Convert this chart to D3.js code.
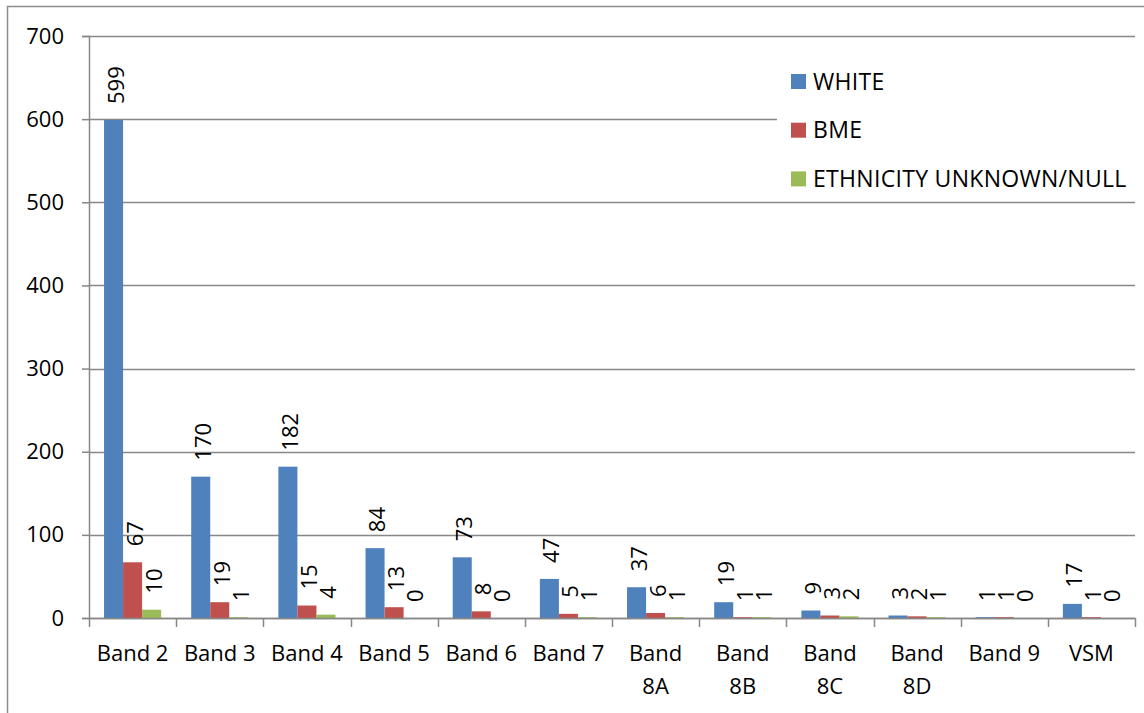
<!DOCTYPE html>
<html>
<head>
<meta charset="utf-8">
<script src="https://cdn.jsdelivr.net/npm/d3@7"></script>
<style>
  html, body { margin: 0; padding: 0; background: #fff; }
  svg { display: block; }
  text { font-family: "Open Sans", "Liberation Sans", sans-serif; fill: #000; }
</style>
</head>
<body>
<script>
// Staff counts by pay band and ethnicity
const categories = ["Band 2", "Band 3", "Band 4", "Band 5", "Band 6", "Band 7",
                    "Band 8A", "Band 8B", "Band 8C", "Band 8D", "Band 9", "VSM"];
const seriesNames = ["WHITE", "BME", "ETHNICITY UNKNOWN/NULL"];
const white   = [599, 170, 182, 84, 73, 47, 37, 19, 9, 3, 1, 17];
const bme     = [67, 19, 15, 13, 8, 5, 6, 1, 3, 2, 1, 1];
const unknown = [10, 1, 4, 0, 0, 1, 1, 1, 2, 1, 0, 0];
const yTicks  = [0, 100, 200, 300, 400, 500, 600, 700];
const colors  = ["#4F81BD", "#C0504D", "#9BBB59"];

const seriesValues = [white, bme, unknown];
const W = 1144, H = 713;
const plot = { left: 89, right: 1135, top: 36, bottom: 618 };
const gridColor = "#878787";
const fs = 22;

const svg = d3.select("body").append("svg").attr("width", W).attr("height", H);

// chart-area frame (left and top edges)
svg.append("path")
  .attr("d", `M7.5,${H} V6.5 H${W}`)
  .attr("fill", "none").attr("stroke", "#8c8c8c").attr("stroke-width", 1.5);

const y = d3.scaleLinear().domain([0, 700]).range([plot.bottom, plot.top]);
const x0 = d3.scaleBand().domain(categories).range([plot.left, plot.right]).padding(0);
const gap = x0.bandwidth() * 0.345;
const x1 = d3.scaleBand().domain(seriesNames).range([gap / 2, x0.bandwidth() - gap / 2]).padding(0);

// horizontal gridlines
svg.append("g").selectAll("line").data(yTicks).join("line")
  .attr("x1", plot.left).attr("x2", plot.right)
  .attr("y1", d => Math.round(y(d)) + 0.5).attr("y2", d => Math.round(y(d)) + 0.5)
  .attr("stroke", gridColor).attr("stroke-width", 1.5);

// y axis
const yAxis = d3.axisLeft(y).tickValues(yTicks).tickSize(7).tickPadding(18);
const gy = svg.append("g").attr("transform", `translate(${plot.left},0)`).call(yAxis);
gy.select(".domain").attr("stroke", gridColor).attr("stroke-width", 1.5);
gy.selectAll(".tick line").attr("stroke", gridColor).attr("stroke-width", 1.5);
gy.selectAll(".tick text").attr("font-size", fs).attr("font-family", "Open Sans").attr("fill", "#000");

// bars
const groups = svg.append("g").selectAll("g").data(categories).join("g")
  .attr("transform", d => `translate(${x0(d)},0)`);

groups.selectAll("rect")
  .data((c, i) => seriesNames.map((s, k) => ({ s, k, v: seriesValues[k][i] })))
  .join("rect")
  .attr("x", d => x1(d.s))
  .attr("width", x1.bandwidth())
  .attr("y", d => y(d.v))
  .attr("height", d => Math.max(0, y(0) - y(d.v)))
  .attr("fill", d => colors[d.k]);

// value labels, rotated
groups.selectAll("text.val")
  .data((c, i) => seriesNames.map((s, k) => ({ s, k, v: seriesValues[k][i] })))
  .join("text").attr("class", "val")
  .attr("font-size", fs)
  .attr("text-anchor", "start")
  .attr("transform", d => `translate(${x1(d.s) + x1.bandwidth() / 2 + 10},${y(d.v) - 16}) rotate(-90)`)
  .text(d => d.v);

// x axis
const xAxis = d3.axisBottom(x0).tickSize(0).tickPadding(0).tickFormat("");
const gx = svg.append("g").attr("transform", `translate(0,${plot.bottom})`).call(xAxis);
gx.select(".domain").attr("stroke", gridColor).attr("stroke-width", 1.5);
gx.selectAll(".tick").remove();

// category boundary tick marks
const bounds = categories.map(c => x0(c)).concat([plot.right]);
svg.append("g").selectAll("line").data(bounds).join("line")
  .attr("x1", d => Math.round(d) + 0.5).attr("x2", d => Math.round(d) + 0.5)
  .attr("y1", plot.bottom).attr("y2", plot.bottom + 9)
  .attr("stroke", gridColor).attr("stroke-width", 1.5);

// category labels, wrapped when wider than the band allows
const catLabels = svg.append("g").selectAll("text").data(categories).join("text")
  .attr("font-size", fs).attr("text-anchor", "middle")
  .attr("x", d => x0(d) + x0.bandwidth() / 2)
  .attr("y", 661);
catLabels.each(function(d) {
  const t = d3.select(this);
  t.text(d);
  if (this.getComputedTextLength() > 76) {
    const parts = d.split(" ");
    t.text(null);
    parts.forEach((p, i) => {
      t.append("tspan").attr("x", x0(d) + x0.bandwidth() / 2)
        .attr("dy", i === 0 ? 0 : 33).text(p);
    });
  }
});

// legend
const legend = svg.append("g");
legend.append("rect").attr("x", 777).attr("y", 46).attr("width", 358).attr("height", 154).attr("fill", "#fff");
const items = legend.selectAll("g").data(seriesNames).join("g")
  .attr("transform", (d, i) => `translate(791,${81.5 + i * 48.7})`);
items.append("rect").attr("x", 0).attr("y", -7.5).attr("width", 15).attr("height", 15)
  .attr("fill", (d, i) => colors[i]);
items.append("text").attr("x", 22).attr("y", 8).attr("font-size", 23)
  .attr("letter-spacing", 0.3).text(d => d);
</script>
</body>
</html>
